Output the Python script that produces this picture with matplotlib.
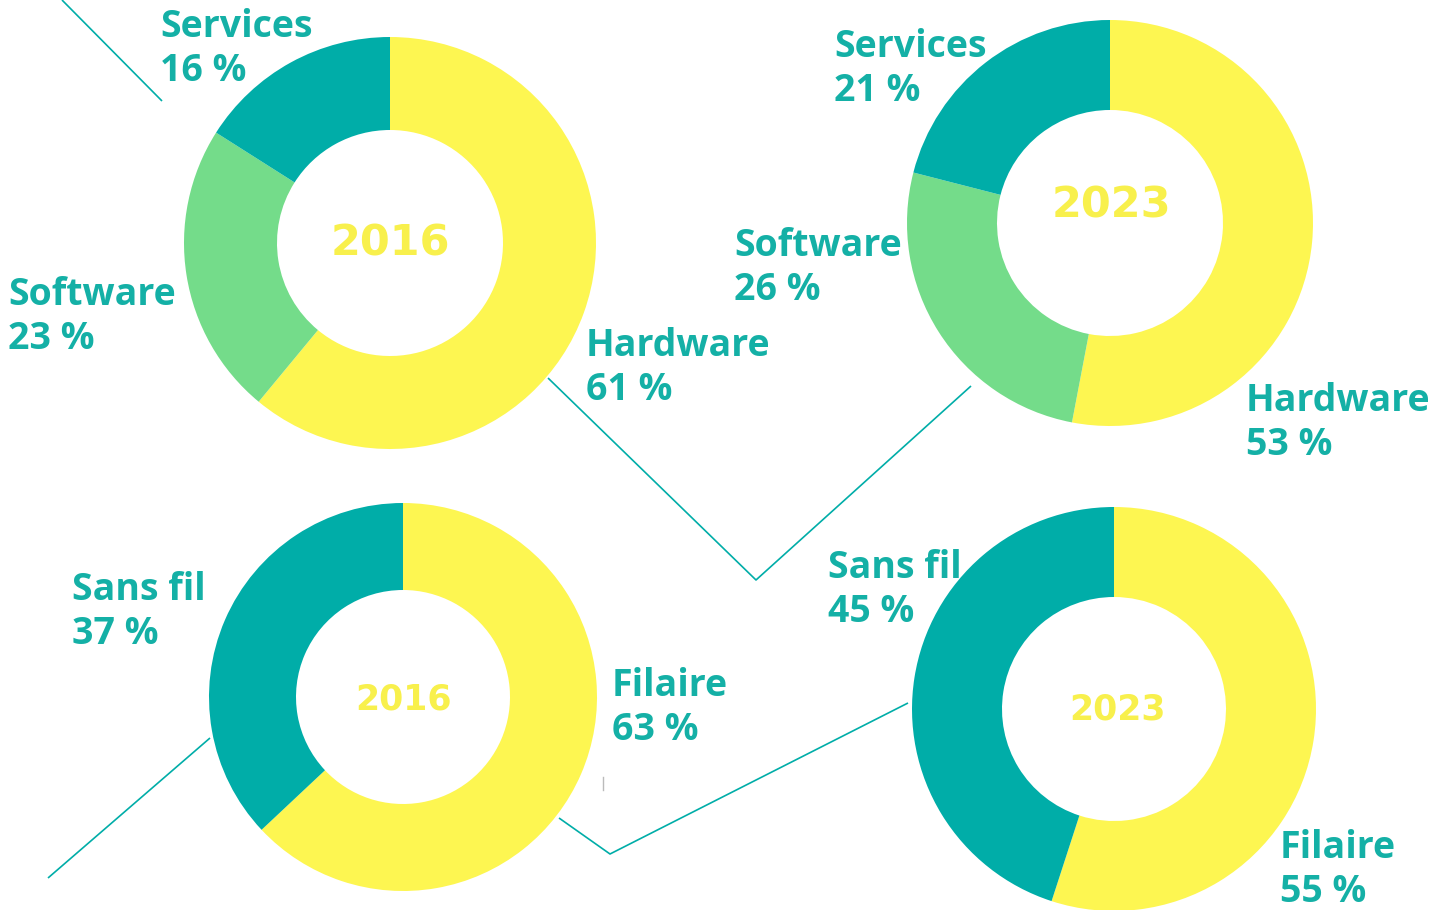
import matplotlib
matplotlib.use("Agg")
import matplotlib.pyplot as plt

# Données
cat_materiel = ["Hardware", "Software", "Services"]
materiel_2016 = [61, 23, 16]
materiel_2023 = [53, 26, 21]
cat_reseau = ["Filaire", "Sans fil"]
reseau_2016 = [63, 37]
reseau_2023 = [55, 45]
annees = ["2016", "2023", "2016", "2023"]

W, H = 1443, 910
TEAL = "#00ada8"
TEXT = "#14b0a6"
YELLOW = "#fdf651"
GREEN = "#74dc8a"
YEAR = "#f8f04c"

fig = plt.figure(figsize=(W / 100, H / 100), dpi=100)
ax = fig.add_axes([0, 0, 1, 1])


def Y(y):
    # coordonnées pixel (origine en haut) -> coordonnées axes
    return H - y


# (valeurs, couleurs, centre, rayon ext, rayon int, position année, taille année)
donuts = [
    (materiel_2016, [YELLOW, GREEN, TEAL], (390, 243), 206, 113, (390, 243), 31),
    (materiel_2023, [YELLOW, GREEN, TEAL], (1110, 223), 203, 113, (1111, 205), 31),
    (reseau_2016, [YELLOW, TEAL], (403, 697), 194, 107, (404, 700), 25),
    (reseau_2023, [YELLOW, TEAL], (1114, 709), 202, 112, (1117, 710), 25),
]

for (vals, cols, (cx, cy), r, ri, (tx, ty), fs), an in zip(donuts, annees):
    ax.pie(vals, colors=cols, startangle=90, counterclock=False,
           radius=r, center=(cx, Y(cy)), frame=True,
           wedgeprops=dict(width=r - ri, edgecolor="none", linewidth=0))
    ax.text(tx, Y(ty), an, color=YEAR, fontsize=fs, fontweight="bold",
            ha="center", va="center", family="DejaVu Sans")

ax.set_xlim(0, W)
ax.set_ylim(0, H)
ax.set_aspect("equal")
ax.axis("off")

# Étiquettes : (catégorie, valeur, x gauche, ligne de base 1)
etiquettes = [
    (cat_materiel[2], materiel_2016[2], 160, 37),
    (cat_materiel[1], materiel_2016[1], 8, 305),
    (cat_materiel[0], materiel_2016[0], 586, 356),
    (cat_materiel[2], materiel_2023[2], 834, 57),
    (cat_materiel[1], materiel_2023[1], 734, 256),
    (cat_materiel[0], materiel_2023[0], 1246, 411),
    (cat_reseau[1], reseau_2016[1], 72, 600),
    (cat_reseau[0], reseau_2016[0], 612, 696),
    (cat_reseau[1], reseau_2023[1], 828, 578),
    (cat_reseau[0], reseau_2023[0], 1280, 858),
]
for nom, val, x, yb in etiquettes:
    ax.text(x, Y(yb), nom, color=TEXT, fontsize=27, fontweight="bold",
            family="Open Sans", ha="left", va="baseline")
    ax.text(x, Y(yb + 44), f"{val} %", color=TEXT, fontsize=27,
            fontweight="bold", family="Open Sans", ha="left", va="baseline")

# Traits de liaison
traits = [
    ([62, 162], [0, 101]),
    ([548, 756, 971], [378, 580, 386]),
    ([48, 210], [878, 738]),
    ([559, 610, 908], [818, 854, 703]),
]
for xs, ys in traits:
    ax.plot(xs, [Y(v) for v in ys], color=TEAL, lw=1.2, solid_capstyle="butt")
ax.plot([603, 603], [Y(777), Y(790)], color="#bbbbbb", lw=1)

fig.savefig("out.png", dpi=100, facecolor="white")
